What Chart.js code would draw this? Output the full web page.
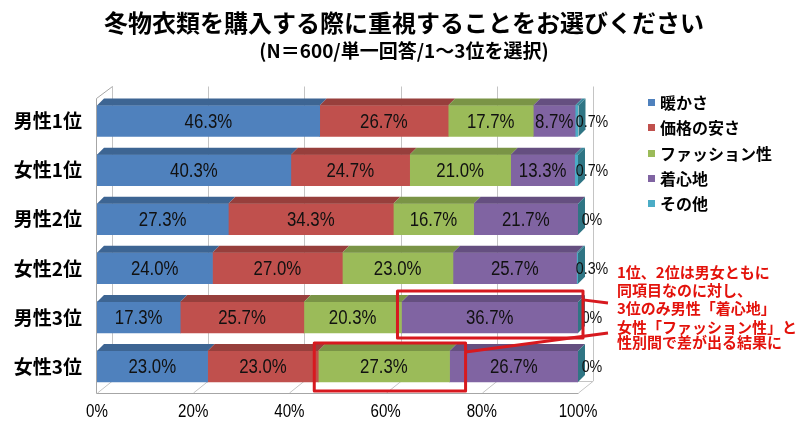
<!DOCTYPE html>
<html lang="ja">
<head>
<meta charset="utf-8">
<script src="https://cdn.jsdelivr.net/npm/chart.js@4/dist/chart.umd.min.js"></script>
<style>
  body { margin: 0; background: #fff; }
  #wrap { position: relative; width: 808px; height: 434px; overflow: hidden; font-family: "Noto Sans CJK JP", sans-serif; }
  #c { position: absolute; left: 0; top: 0; }
  .title { position: absolute; left: 0; width: 808px; text-align: center; font-weight: bold; color: #000; white-space: nowrap; }
  .legend { position: absolute; left: 648px; font-size: 16px; font-weight: bold; }
  .legend div { position: absolute; white-space: nowrap; line-height: 20px; }
  .legend span { display: inline-block; width: 7px; height: 7px; margin-right: 5px; vertical-align: 3px; }
  .note { position: absolute; left: 617px; color: #e3120b; font-size: 15px; font-weight: bold; white-space: nowrap; line-height: 18px; }
</style>
</head>
<body>
<div id="wrap">
  <canvas id="c" width="808" height="434"></canvas>
  <div class="title" style="top:7px;font-size:24px;line-height:30px;">冬物衣類を購入する際に重視することをお選びください</div>
  <div class="title" style="top:38px;font-size:19px;line-height:24px;">(N＝600/単一回答/1～3位を選択)</div>
  <div class="legend" id="legend"></div>
  <div class="note" id="note"></div>
</div>
<script>
// data
const categories = ['男性1位', '女性1位', '男性2位', '女性2位', '男性3位', '女性3位'];
const seriesNames = ['暖かさ', '価格の安さ', 'ファッション性', '着心地', 'その他'];
const warmth  = [46.3, 40.3, 27.3, 24.0, 17.3, 23.0];
const price   = [26.7, 24.7, 34.3, 27.0, 25.7, 23.0];
const fashion = [17.7, 21.0, 16.7, 23.0, 20.3, 27.3];
const comfort = [8.7, 13.3, 21.7, 25.7, 36.7, 26.7];
const other   = [0.7, 0.7, 0, 0.3, 0, 0];
const xTicks = [0, 20, 40, 60, 80, 100];
const noteLines = ['1位、2位は男女ともに', '同項目なのに対し、', '3位のみ男性「着心地」', '女性「ファッション性」と', '性別間で差が出る結果に'];

const frontColors = ['#4f81bd', '#c0504d', '#9bbb59', '#8064a2', '#4bacc6'];
const topColors   = ['#3d6593', '#973f3c', '#7a9446', '#654f80', '#3b889c'];
const sideColor = '#2f7584';

const numFont = '"Liberation Sans", Arial, sans-serif';
const bar = { dx: 7, dy: 7 };
const wall = { dx: 15, dy: 12 };

// legend + note as html text
const legend = document.getElementById('legend');
seriesNames.forEach((name, i) => {
  const d = document.createElement('div');
  d.style.top = (92 + i * 25.3) + 'px';
  d.innerHTML = '<span style="background:' + frontColors[i] + '"></span>' + name;
  legend.appendChild(d);
});
const noteTops = [263, 281, 299, 318, 333];
const note = document.getElementById('note');
noteLines.forEach((t, i) => {
  const d = document.createElement('div');
  d.style.position = 'absolute';
  d.style.top = noteTops[i] + 'px';
  d.textContent = t;
  note.appendChild(d);
});

function poly(ctx, pts, fill) {
  ctx.beginPath();
  ctx.moveTo(pts[0][0], pts[0][1]);
  for (let i = 1; i < pts.length; i++) ctx.lineTo(pts[i][0], pts[i][1]);
  ctx.closePath();
  ctx.fillStyle = fill;
  ctx.fill();
}

// narrow number text (no condensed font installed, so squeeze it)
function narrowText(ctx, txt, x, y, size, align) {
  ctx.save();
  ctx.font = size + 'px ' + numFont;
  ctx.textAlign = align;
  ctx.textBaseline = 'middle';
  ctx.translate(x, y);
  ctx.scale(0.84, 1);
  ctx.fillText(txt, 0, 0);
  ctx.restore();
}

const faces3d = {
  id: 'faces3d',
  beforeDatasetsDraw(chart) {
    const { ctx, chartArea: a, scales: { x } } = chart;
    const floorY = a.bottom + 2;
    const wallTop = a.top - 10;
    const x0 = x.getPixelForValue(0);
    const x1 = x.getPixelForValue(100);
    ctx.save();
    ctx.lineWidth = 1;
    ctx.strokeStyle = '#c4c4c4';
    xTicks.forEach(v => {
      const px = Math.round(x.getPixelForValue(v)) + 0.5;
      ctx.beginPath();
      ctx.moveTo(px, floorY);
      ctx.lineTo(px + wall.dx, floorY - wall.dy);
      ctx.lineTo(px + wall.dx, wallTop);
      ctx.stroke();
    });
    ctx.beginPath();
    ctx.moveTo(x0 + wall.dx, floorY - wall.dy + 0.5);
    ctx.lineTo(x1 + wall.dx, floorY - wall.dy + 0.5);
    ctx.stroke();
    ctx.strokeStyle = '#a6a6a6';
    ctx.beginPath();
    ctx.moveTo(Math.round(x1) + 0.5, floorY + 0.5);
    ctx.lineTo(Math.round(x0) - 0.5, floorY + 0.5);
    ctx.lineTo(Math.round(x0) - 0.5, wallTop + wall.dy);
    ctx.lineTo(Math.round(x0) + wall.dx + 0.5, wallTop);
    ctx.stroke();
    // x tick labels
    ctx.fillStyle = '#000';
    xTicks.forEach(v => narrowText(ctx, v + '%', x.getPixelForValue(v), a.bottom + 21, 18, 'center'));
    ctx.restore();
  },
  afterDatasetsDraw(chart) {
    const { ctx } = chart;
    const last = chart.data.datasets.length - 1;
    ctx.save();
    // top faces and right side
    chart.data.datasets.forEach((ds, di) => {
      chart.getDatasetMeta(di).data.forEach(el => {
        const p = el.getProps(['x', 'y', 'base', 'height'], true);
        const top = p.y - p.height / 2, bot = p.y + p.height / 2;
        const l = Math.min(p.x, p.base), r = Math.max(p.x, p.base);
        if (r > l) {
          poly(ctx, [[l, top], [l + bar.dx, top - bar.dy], [r + bar.dx, top - bar.dy], [r, top]], topColors[di]);
        }
        if (di === last) {
          poly(ctx, [[r, top], [r + bar.dx, top - bar.dy], [r + bar.dx, bot - bar.dy], [r, bot]], sideColor);
        }
      });
    });
    // value labels
    ctx.fillStyle = '#111';
    chart.data.datasets.forEach((ds, di) => {
      chart.getDatasetMeta(di).data.forEach((el, i) => {
        const v = ds.data[i];
        const txt = v === 0 ? '0%' : v.toFixed(1) + '%';
        const p = el.getProps(['x', 'y', 'base'], true);
        if (di === last) {
          narrowText(ctx, txt, chart.scales.x.getPixelForValue(100) + 14, p.y + 1, 17, 'center');
        } else {
          narrowText(ctx, txt, (p.x + p.base) / 2, p.y + 1, 20, 'center');
        }
      });
    });
    // highlight boxes
    const box = (di, i, pad) => {
      const p = chart.getDatasetMeta(di).data[i].getProps(['x', 'y', 'base', 'height'], true);
      return {
        l: Math.min(p.x, p.base) - pad[0], r: Math.max(p.x, p.base) + pad[1],
        t: p.y - p.height / 2 - bar.dy - pad[2], b: p.y + p.height / 2 + pad[3]
      };
    };
    const b1 = box(3, 4, [4, 5, 4, 5]);
    const b2 = box(2, 5, [4, 16, 1, 9]);
    ctx.strokeStyle = '#d7191f';
    ctx.lineWidth = 3;
    ctx.lineJoin = 'round';
    [b1, b2].forEach(b => ctx.strokeRect(b.l, b.t, b.r - b.l, b.b - b.t));
    ctx.beginPath();
    ctx.moveTo(b1.r, b1.t + 9);
    ctx.lineTo(608, 303);
    ctx.moveTo(b2.r, b2.t + 9);
    ctx.lineTo(608, 333);
    ctx.stroke();
    ctx.restore();
  }
};

const datasets = [warmth, price, fashion, comfort, other].map((values, i) => ({
  label: seriesNames[i],
  data: values,
  backgroundColor: frontColors[i],
  borderWidth: 0,
  barThickness: 31
}));

new Chart(document.getElementById('c'), {
  type: 'bar',
  data: { labels: categories, datasets: datasets },
  options: {
    indexAxis: 'y',
    responsive: false,
    animation: false,
    layout: { padding: { top: 96.5, right: 230, left: 0, bottom: 0 } },
    plugins: { legend: { display: false }, tooltip: { enabled: false } },
    scales: {
      x: {
        stacked: true,
        min: 0,
        max: 100,
        grid: { display: false, drawTicks: false },
        border: { display: false },
        afterBuildTicks: s => { s.ticks = xTicks.map(v => ({ value: v })); },
        afterFit: s => { s.height = 43; },
        ticks: { display: false }
      },
      y: {
        stacked: true,
        grid: { display: false, drawTicks: false },
        border: { display: false },
        afterFit: s => { s.width = 97; },
        ticks: { padding: 15, color: '#000', font: { family: '"Noto Sans CJK JP", sans-serif', size: 19, weight: 'bold' } }
      }
    }
  },
  plugins: [faces3d]
});
</script>
</body>
</html>
